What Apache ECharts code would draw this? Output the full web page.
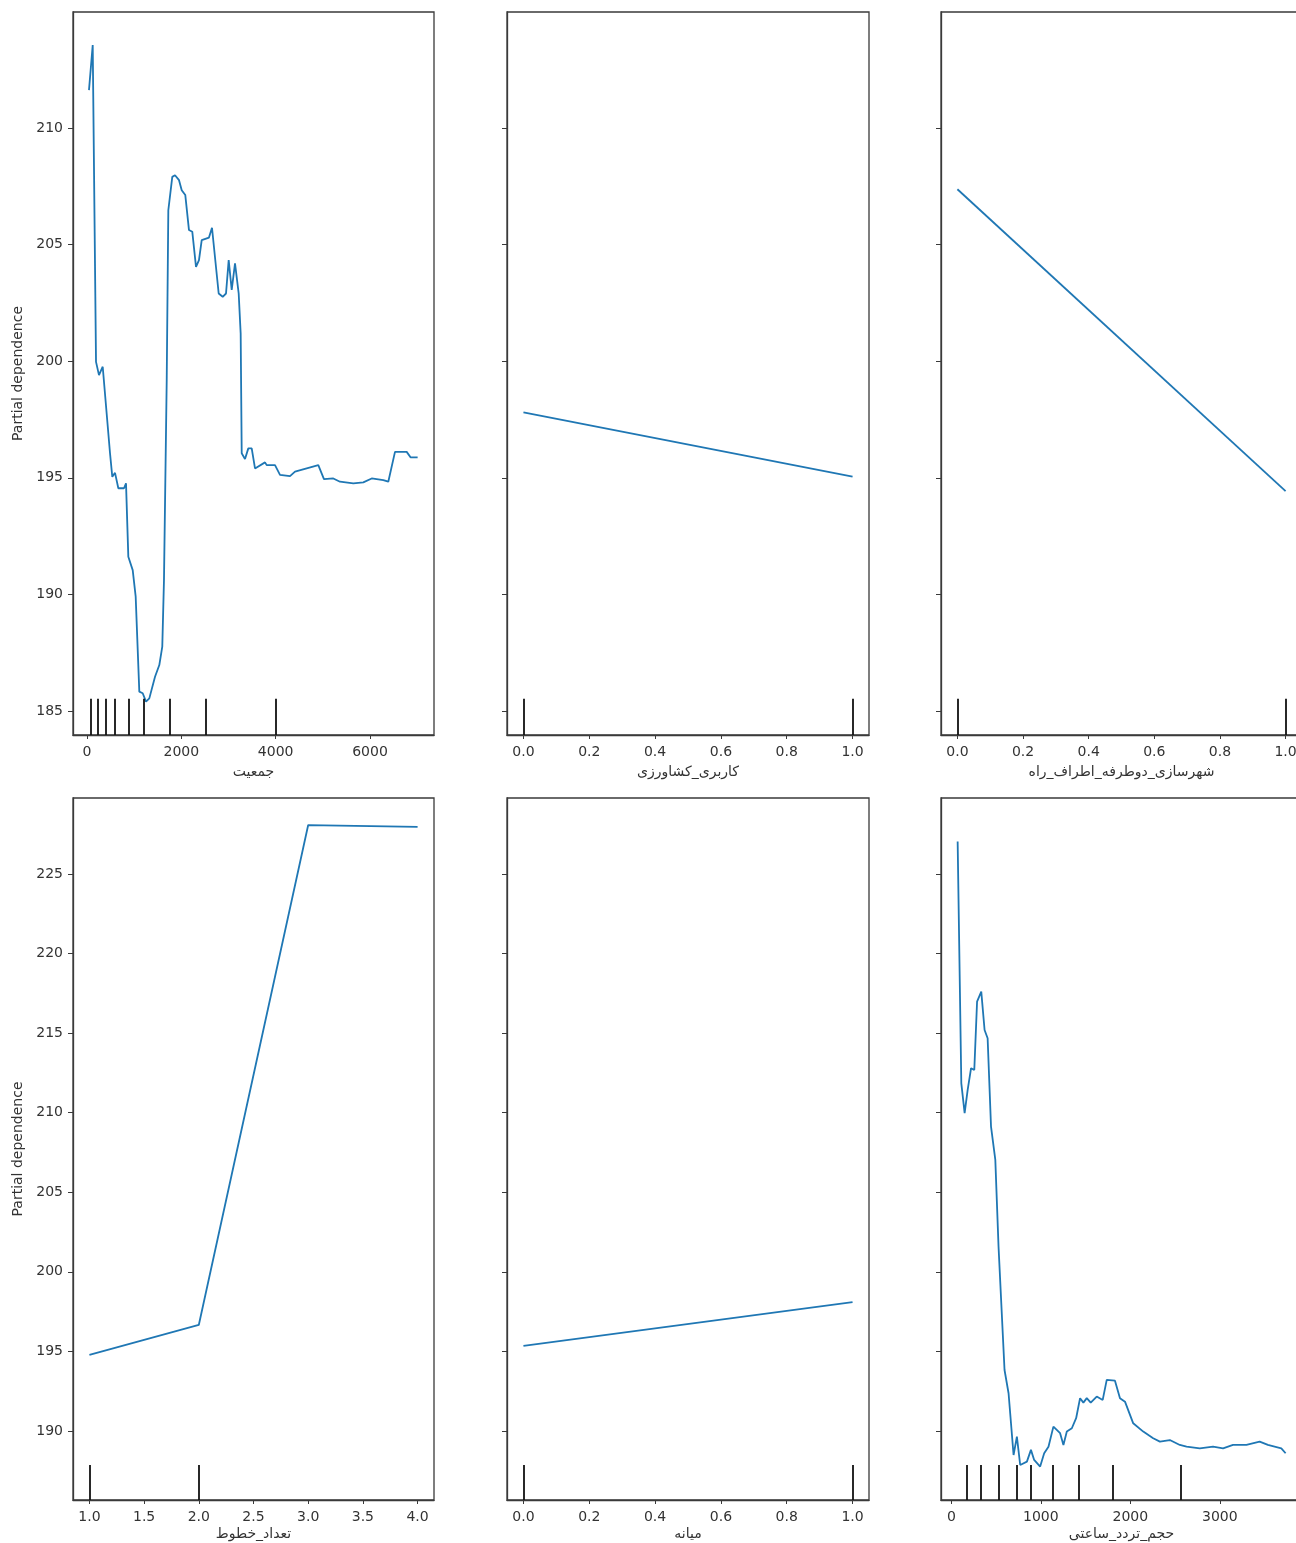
<!DOCTYPE html>
<html>
<head>
<meta charset="utf-8">
<script src="https://cdn.jsdelivr.net/npm/echarts@6/dist/echarts.min.js"></script>
<style>
  html, body { margin: 0; padding: 0; background: #fff; }
  #chart { width: 1296px; height: 1543px; }
</style>
</head>
<body>
<div id="chart"></div>
<script>
// partial dependence curves
const popX = [42, 121, 191, 254, 333, 488, 536, 594, 664, 784, 827, 876, 969, 1032, 1109, 1181, 1251, 1321, 1442, 1533, 1596, 1632, 1690, 1724, 1808, 1866, 1951, 2008, 2084, 2162, 2232, 2311, 2374, 2432, 2586, 2650, 2792, 2877, 2947, 3004, 3068, 3138, 3216, 3258, 3280, 3350, 3420, 3492, 3562, 3774, 3810, 3986, 4092, 4304, 4410, 4658, 4904, 5024, 5222, 5364, 5646, 5858, 6036, 6282, 6388, 6530, 6778, 6863, 7010]
const popY = [211.62, 213.55, 199.97, 199.4, 199.76, 196.05, 195.04, 195.21, 194.55, 194.55, 194.76, 191.61, 191.04, 189.9, 185.83, 185.76, 185.4, 185.54, 186.47, 186.97, 187.76, 190.62, 199.19, 206.47, 207.9, 207.97, 207.76, 207.33, 207.12, 205.62, 205.55, 204.04, 204.33, 205.19, 205.3, 205.72, 202.9, 202.76, 202.9, 204.33, 203.05, 204.19, 202.9, 201.19, 196.05, 195.8, 196.26, 196.26, 195.4, 195.66, 195.54, 195.54, 195.12, 195.07, 195.26, 195.4, 195.54, 194.94, 194.97, 194.83, 194.76, 194.8, 194.97, 194.9, 194.83, 196.11, 196.11, 195.87, 195.87]
const popDeciles = [78, 233, 403, 587, 890, 1194, 1760, 2508, 4007]

const agriX = [0, 1]
const agriY = [197.8, 195.05]

const urbanX = [0, 1]
const urbanY = [207.37, 194.43]

const lanesX = [1, 2, 3, 4]
const lanesY = [194.78, 196.66, 228.08, 227.96]
const lanesDeciles = [1, 2]

const medianX = [0, 1]
const medianY = [195.34, 198.1]

const trafficX = [70, 111, 148, 182, 220, 256, 287, 334, 371, 405, 443, 491, 527, 594, 639, 695, 732, 769, 844, 889, 925, 992, 1037, 1085, 1140, 1215, 1252, 1290, 1346, 1394, 1438, 1475, 1513, 1557, 1624, 1691, 1736, 1828, 1884, 1940, 2032, 2144, 2255, 2330, 2441, 2553, 2628, 2776, 2924, 3036, 3147, 3297, 3445, 3537, 3687, 3735]
const trafficY = [227.04, 211.85, 209.97, 211.43, 212.8, 212.69, 216.98, 217.61, 215.2, 214.68, 209.13, 207.03, 201.58, 193.83, 192.37, 188.49, 189.64, 187.86, 188.07, 188.81, 188.18, 187.76, 188.6, 189.01, 190.27, 189.86, 189.12, 189.96, 190.17, 190.8, 192.06, 191.78, 192.06, 191.78, 192.16, 191.95, 193.21, 193.16, 192.06, 191.84, 190.48, 189.96, 189.54, 189.33, 189.43, 189.12, 189.01, 188.91, 189.01, 188.91, 189.12, 189.12, 189.33, 189.12, 188.91, 188.6]
const trafficDeciles = [175, 331, 524, 736, 892, 1129, 1419, 1798, 2561]

const binaryDeciles = [0, 1]

// tick labels
const popTicks = [0, 2000, 4000, 6000]
const unitTicks = [0, 0.2, 0.4, 0.6, 0.8, 1.0]
const lanesTicks = [1, 1.5, 2, 2.5, 3, 3.5, 4]
const trafficTicks = [0, 1000, 2000, 3000]
const topYTicks = [185, 190, 195, 200, 205, 210]
const bottomYTicks = [190, 195, 200, 205, 210, 215, 220, 225]

const topY = { min: 183.97, max: 214.97 }
const bottomY = { min: 185.66, max: 229.78 }

const FONT = 'DejaVu Sans'
const AXIS_COLOR = '#3a3a3a'

const panels = [
  { x: popX, y: popY, rug: popDeciles, xr: [-297, 7357], xt: popTicks, dec: 0, name: 'جمعیت', row: 0, col: 0 },
  { x: agriX, y: agriY, rug: binaryDeciles, xr: [-0.05, 1.05], xt: unitTicks, dec: 1, name: 'کاربری_کشاورزی', row: 0, col: 1 },
  { x: urbanX, y: urbanY, rug: binaryDeciles, xr: [-0.05, 1.05], xt: unitTicks, dec: 1, name: 'شهرسازی_دوطرفه_اطراف_راه', row: 0, col: 2 },
  { x: lanesX, y: lanesY, rug: lanesDeciles, xr: [0.85, 4.15], xt: lanesTicks, dec: 1, name: 'تعداد_خطوط', row: 1, col: 0 },
  { x: medianX, y: medianY, rug: binaryDeciles, xr: [-0.05, 1.05], xt: unitTicks, dec: 1, name: 'میانه', row: 1, col: 1 },
  { x: trafficX, y: trafficY, rug: trafficDeciles, xr: [-116, 3918], xt: trafficTicks, dec: 0, name: 'حجم_تردد_ساعتی', row: 1, col: 2 }
]

const colLeft = [73, 507, 941]
const colWidth = [361, 362, 361]
const rowTop = [12, 798]
const rowHeight = [723, 702]
const nameGaps = [30, 27]

const chart = echarts.init(document.getElementById('chart'))

const grid = []
const xAxis = []
const yAxis = []
const series = []

panels.forEach((p, i) => {
  const yr = p.row === 0 ? topY : bottomY
  const yt = p.row === 0 ? topYTicks : bottomYTicks
  grid.push({
    left: colLeft[p.col],
    top: rowTop[p.row],
    width: colWidth[p.col],
    height: rowHeight[p.row],
    outerBoundsMode: 'none',
    containLabel: false,
    show: true,
    borderColor: AXIS_COLOR,
    borderWidth: 1.3,
    backgroundColor: '#fff'
  })
  xAxis.push({
    type: 'value',
    gridIndex: i,
    min: p.xr[0],
    max: p.xr[1],
    splitLine: { show: false },
    axisLine: { show: true, onZero: false, lineStyle: { color: AXIS_COLOR, width: 1.3 } },
    axisTick: { show: true, length: 4, customValues: p.xt, lineStyle: { color: AXIS_COLOR } },
    axisLabel: {
      customValues: p.xt,
      margin: 10,
      color: '#333',
      fontFamily: FONT,
      fontSize: 14,
      formatter: v => v.toFixed(p.dec)
    },
    name: p.name,
    nameLocation: 'middle',
    nameGap: nameGaps[p.row],
    nameTextStyle: { color: '#333', fontFamily: FONT, fontSize: 14 }
  })
  yAxis.push({
    type: 'value',
    gridIndex: i,
    min: yr.min,
    max: yr.max,
    splitLine: { show: false },
    axisLine: { show: true, onZero: false, lineStyle: { color: AXIS_COLOR, width: 1.3 } },
    axisTick: { show: true, length: 5, customValues: yt, lineStyle: { color: AXIS_COLOR } },
    axisLabel: {
      show: p.col === 0,
      customValues: yt,
      margin: 10,
      color: '#333',
      fontFamily: FONT,
      fontSize: 14
    },
    name: p.col === 0 ? 'Partial dependence' : '',
    nameLocation: 'middle',
    nameRotate: 90,
    nameGap: 48,
    nameTextStyle: { color: '#333', fontFamily: FONT, fontSize: 14 }
  })
  // decile rug: short black marks along the bottom 5% of each panel
  const rugTop = yr.min + 0.05 * (yr.max - yr.min)
  series.push({
    type: 'line',
    xAxisIndex: i,
    yAxisIndex: i,
    data: p.x.map((v, k) => [v, p.y[k]]),
    showSymbol: false,
    smooth: false,
    lineStyle: { color: '#1f77b4', width: 1.8 },
    markLine: {
      silent: true,
      symbol: ['none', 'none'],
      label: { show: false },
      lineStyle: { color: '#111', width: 1.8, type: 'solid' },
      data: p.rug.map(d => [{ coord: [d, yr.min] }, { coord: [d, rugTop] }])
    }
  })
})

chart.setOption({
  animation: false,
  backgroundColor: '#fff',
  grid: grid,
  xAxis: xAxis,
  yAxis: yAxis,
  series: series
})
</script>
</body>
</html>
